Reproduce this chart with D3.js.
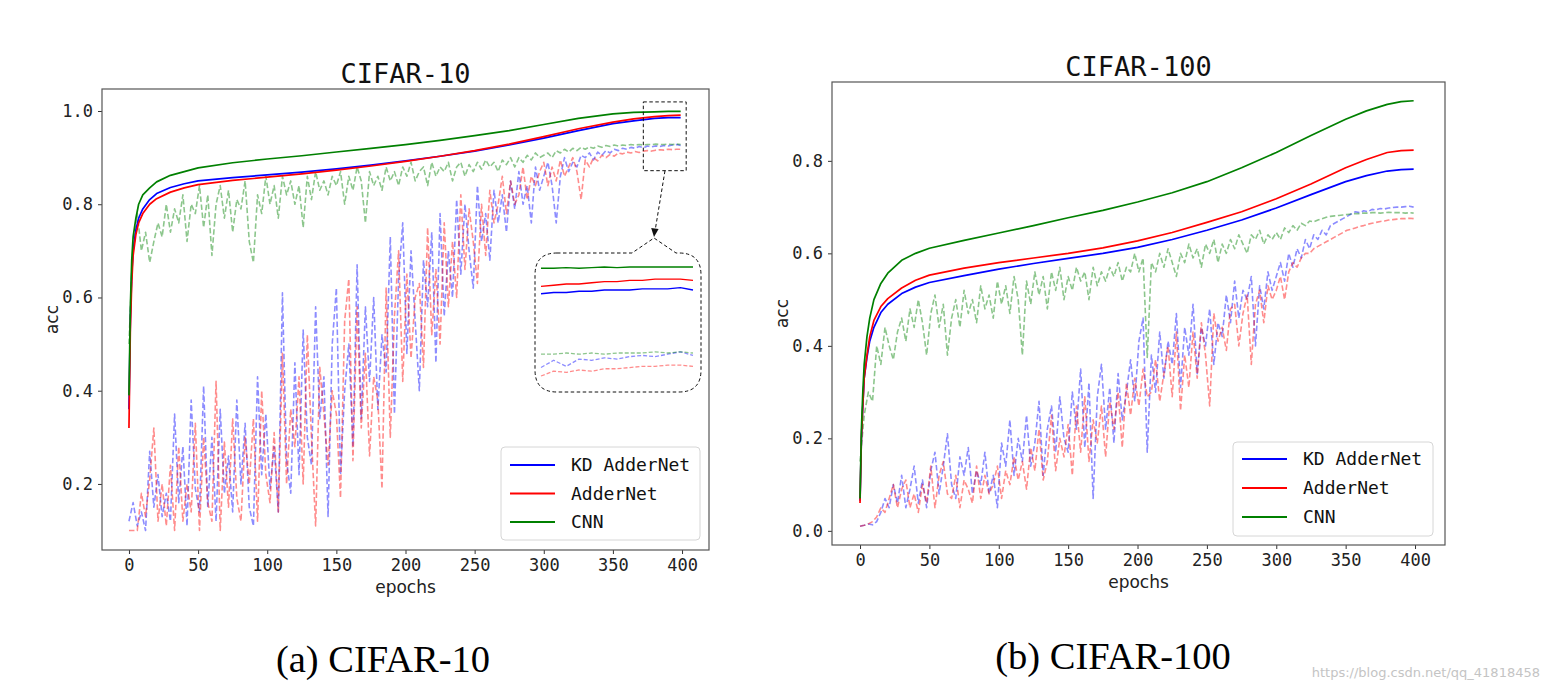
<!DOCTYPE html>
<html><head><meta charset="utf-8">
<script src="https://cdn.jsdelivr.net/npm/d3@7"></script>
<style>body{margin:0;background:#fff}</style>
</head><body>
<svg id="chart" width="1548" height="691"></svg>
<script>
// ---------- data ----------
const seriesNames = ["KD AdderNet", "AdderNet", "CNN"];
const seriesColors = ["#0000ff", "#ff0000", "#008000"];
const xTicks = [0, 50, 100, 150, 200, 250, 300, 350, 400];
const yTicksC10 = [0.2, 0.4, 0.6, 0.8, 1.0];
const yTicksC100 = [0.0, 0.2, 0.4, 0.6, 0.8];
const titles = ["CIFAR-10", "CIFAR-100"];
const captions = ["(a) CIFAR-10", "(b) CIFAR-100"];

const trainEpochs = [0,1,2,3,5,7,10,15,20,30,40,50,75,100,125,150,175,200,225,250,275,300,325,350,365,380,390,399];
const testEpochs = [0,3,6,9,12,15,18,21,24,27,30,33,36,39,42,45,48,51,54,57,60,63,66,69,72,75,78,81,84,87,
  90,93,96,99,102,105,108,111,114,117,120,123,126,129,132,135,138,141,144,147,150,153,156,159,162,165,168,171,174,177,
  180,183,186,189,192,195,198,201,204,207,210,213,216,219,222,225,228,231,234,237,240,243,246,249,252,255,258,261,264,267,
  270,273,276,279,282,285,288,291,294,297,300,303,306,309,312,315,318,321,324,327,330,333,336,339,342,345,348,351,354,357,
  360,363,366,369,372,375,378,381,384,387,390,393,396,399];

// CIFAR-10 training accuracy (solid)
const c10TrainKD  = [0.36,0.55,0.65,0.70,0.745,0.77,0.79,0.81,0.823,0.836,0.844,0.850,0.857,0.863,0.869,0.876,0.884,0.893,0.903,0.914,0.927,0.942,0.958,0.973,0.979,0.984,0.986,0.986];
const c10TrainAdd = [0.32,0.53,0.63,0.69,0.735,0.76,0.78,0.80,0.812,0.826,0.835,0.842,0.851,0.858,0.865,0.873,0.882,0.892,0.903,0.915,0.929,0.945,0.962,0.976,0.983,0.988,0.990,0.991];
const c10TrainCNN = [0.39,0.58,0.68,0.73,0.77,0.80,0.82,0.835,0.848,0.862,0.870,0.878,0.889,0.897,0.904,0.912,0.920,0.928,0.937,0.947,0.958,0.971,0.984,0.994,0.997,0.998,0.999,0.999];
// CIFAR-10 test accuracy (dashed)
const c10TestKD = [
  0.12,0.16,0.11,0.14,0.10,0.27,0.15,0.22,0.13,0.18,
  0.12,0.35,0.16,0.28,0.11,0.38,0.19,0.14,0.41,0.15,
  0.30,0.12,0.36,0.18,0.26,0.14,0.38,0.20,0.33,0.15,
  0.11,0.43,0.22,0.35,0.19,0.28,0.14,0.61,0.25,0.18,
  0.46,0.22,0.53,0.30,0.24,0.58,0.34,0.43,0.13,0.50,
  0.62,0.22,0.40,0.50,0.28,0.67,0.34,0.58,0.42,0.60,
  0.36,0.52,0.44,0.73,0.35,0.64,0.76,0.48,0.70,0.55,
  0.40,0.68,0.58,0.74,0.46,0.78,0.56,0.70,0.60,0.81,
  0.65,0.80,0.70,0.62,0.84,0.72,0.78,0.68,0.83,0.76,
  0.82,0.74,0.85,0.79,0.87,0.80,0.84,0.76,0.88,0.83,
  0.86,0.89,0.84,0.76,0.86,0.90,0.87,0.89,0.88,0.905,
  0.90,0.91,0.895,0.912,0.905,0.915,0.91,0.918,0.915,0.92,
  0.918,0.922,0.92,0.924,0.921,0.925,0.923,0.925,0.924,0.926,
  0.925,0.927,0.928,0.926];
const c10TestAdd = [
  0.10,0.10,0.10,0.18,0.13,0.21,0.32,0.12,0.20,0.11,
  0.24,0.10,0.28,0.12,0.20,0.14,0.33,0.10,0.30,0.16,
  0.12,0.42,0.10,0.29,0.15,0.34,0.17,0.12,0.30,0.20,
  0.34,0.12,0.40,0.22,0.16,0.31,0.14,0.48,0.20,0.36,
  0.28,0.43,0.20,0.52,0.30,0.11,0.45,0.35,0.24,0.40,
  0.35,0.17,0.55,0.64,0.25,0.58,0.32,0.48,0.26,0.43,
  0.38,0.19,0.62,0.30,0.56,0.70,0.42,0.65,0.47,0.60,
  0.63,0.45,0.75,0.52,0.66,0.50,0.76,0.58,0.72,0.60,
  0.82,0.66,0.79,0.72,0.63,0.80,0.69,0.83,0.76,0.80,
  0.86,0.78,0.85,0.80,0.82,0.88,0.81,0.86,0.84,0.87,
  0.89,0.84,0.88,0.85,0.895,0.86,0.88,0.90,0.87,0.81,
  0.895,0.88,0.90,0.893,0.905,0.90,0.907,0.903,0.91,0.908,
  0.912,0.91,0.913,0.911,0.914,0.915,0.914,0.916,0.917,0.916,
  0.918,0.917,0.918,0.918];
const c10TestCNN = [
  0.50,0.72,0.78,0.70,0.74,0.675,0.72,0.76,0.73,0.80,
  0.74,0.79,0.76,0.82,0.72,0.80,0.78,0.84,0.75,0.82,
  0.69,0.80,0.84,0.77,0.83,0.74,0.81,0.79,0.85,0.72,
  0.675,0.82,0.78,0.86,0.80,0.84,0.77,0.86,0.82,0.85,
  0.80,0.84,0.75,0.86,0.81,0.87,0.83,0.85,0.82,0.86,
  0.84,0.87,0.80,0.86,0.83,0.88,0.85,0.76,0.87,0.84,
  0.86,0.83,0.88,0.85,0.87,0.84,0.88,0.86,0.89,0.85,
  0.87,0.88,0.84,0.89,0.86,0.88,0.87,0.89,0.85,0.88,
  0.89,0.86,0.885,0.87,0.89,0.875,0.895,0.88,0.89,0.87,
  0.895,0.885,0.90,0.88,0.90,0.89,0.905,0.895,0.91,0.90,
  0.905,0.91,0.90,0.915,0.91,0.918,0.912,0.92,0.915,0.922,
  0.918,0.923,0.92,0.925,0.922,0.926,0.924,0.927,0.925,0.927,
  0.926,0.928,0.927,0.928,0.927,0.928,0.928,0.929,0.928,0.928,
  0.929,0.928,0.929,0.928];

// CIFAR-100 training accuracy (solid)
const c100TrainKD  = [0.065,0.20,0.27,0.33,0.375,0.41,0.44,0.472,0.49,0.513,0.527,0.537,0.552,0.566,0.578,0.589,0.600,0.613,0.630,0.650,0.672,0.698,0.727,0.755,0.768,0.778,0.781,0.782];
const c100TrainAdd = [0.06,0.20,0.27,0.33,0.38,0.42,0.455,0.485,0.502,0.525,0.542,0.553,0.568,0.580,0.590,0.600,0.612,0.627,0.645,0.667,0.690,0.718,0.750,0.785,0.803,0.818,0.822,0.823];
const c100TrainCNN = [0.07,0.22,0.30,0.36,0.42,0.46,0.50,0.535,0.557,0.585,0.600,0.611,0.628,0.644,0.660,0.677,0.693,0.711,0.731,0.755,0.785,0.818,0.855,0.890,0.908,0.922,0.928,0.930];
// CIFAR-100 test accuracy (dashed)
const c100TestKD = [
  0.01,0.012,0.015,0.013,0.02,0.04,0.07,0.05,0.10,0.06,
  0.12,0.05,0.09,0.14,0.06,0.11,0.05,0.13,0.17,0.08,
  0.14,0.21,0.10,0.07,0.16,0.12,0.18,0.08,0.13,0.10,
  0.17,0.08,0.12,0.05,0.19,0.14,0.24,0.12,0.20,0.15,
  0.25,0.14,0.19,0.28,0.12,0.22,0.27,0.17,0.29,0.20,
  0.17,0.30,0.22,0.35,0.18,0.32,0.07,0.29,0.36,0.22,
  0.31,0.19,0.34,0.24,0.30,0.37,0.28,0.41,0.46,0.17,
  0.38,0.30,0.43,0.33,0.41,0.36,0.47,0.31,0.44,0.38,
  0.49,0.34,0.44,0.40,0.48,0.36,0.45,0.42,0.51,0.45,
  0.54,0.46,0.52,0.50,0.55,0.40,0.53,0.48,0.56,0.52,
  0.55,0.58,0.54,0.60,0.57,0.61,0.59,0.63,0.61,0.64,
  0.63,0.65,0.64,0.66,0.665,0.67,0.675,0.68,0.685,0.69,
  0.688,0.692,0.69,0.695,0.694,0.697,0.696,0.698,0.699,0.70,
  0.70,0.701,0.702,0.70];
const c100TestAdd = [
  0.01,0.012,0.015,0.02,0.03,0.05,0.04,0.07,0.10,0.05,
  0.09,0.11,0.05,0.08,0.04,0.10,0.06,0.14,0.05,0.12,
  0.15,0.08,0.07,0.12,0.05,0.11,0.09,0.06,0.14,0.07,
  0.12,0.08,0.10,0.14,0.07,0.13,0.10,0.16,0.11,0.15,
  0.09,0.18,0.13,0.22,0.11,0.15,0.25,0.13,0.20,0.16,
  0.23,0.12,0.27,0.17,0.29,0.15,0.24,0.19,0.27,0.16,
  0.28,0.22,0.30,0.18,0.32,0.25,0.33,0.27,0.35,0.29,
  0.30,0.37,0.28,0.34,0.40,0.29,0.43,0.26,0.38,0.31,
  0.43,0.33,0.45,0.38,0.27,0.47,0.41,0.44,0.39,0.48,
  0.49,0.40,0.47,0.51,0.36,0.49,0.52,0.45,0.53,0.50,
  0.52,0.55,0.50,0.56,0.58,0.57,0.59,0.60,0.60,0.61,
  0.615,0.62,0.625,0.63,0.635,0.64,0.645,0.65,0.652,0.655,
  0.658,0.66,0.663,0.665,0.667,0.669,0.67,0.672,0.673,0.674,
  0.675,0.675,0.676,0.675];
const c100TestCNN = [
  0.15,0.25,0.30,0.28,0.40,0.36,0.44,0.40,0.37,0.43,
  0.46,0.41,0.48,0.44,0.50,0.45,0.38,0.47,0.51,0.44,
  0.49,0.38,0.46,0.50,0.44,0.52,0.47,0.50,0.45,0.53,
  0.48,0.51,0.46,0.54,0.49,0.53,0.47,0.55,0.50,0.38,
  0.54,0.49,0.56,0.51,0.55,0.48,0.56,0.52,0.57,0.50,
  0.55,0.52,0.57,0.54,0.56,0.50,0.57,0.53,0.56,0.54,
  0.57,0.55,0.58,0.54,0.57,0.56,0.60,0.56,0.59,0.375,
  0.58,0.56,0.60,0.57,0.61,0.58,0.55,0.60,0.58,0.62,
  0.59,0.61,0.57,0.62,0.60,0.63,0.58,0.62,0.60,0.63,
  0.61,0.64,0.62,0.60,0.64,0.63,0.65,0.62,0.64,0.63,
  0.645,0.63,0.655,0.645,0.66,0.65,0.665,0.66,0.67,0.668,
  0.672,0.675,0.678,0.68,0.681,0.682,0.683,0.684,0.685,0.686,
  0.686,0.687,0.687,0.688,0.688,0.687,0.688,0.689,0.688,0.688,
  0.688,0.687,0.688,0.687];

// Inset (CIFAR-10, last epochs)
const insetEpochs = [375,377,379,381,383,385,387,389,391,393,395,397,399];
const insetTrainKD  = [0.977,0.978,0.978,0.979,0.979,0.980,0.980,0.980,0.981,0.981,0.981,0.982,0.980];
const insetTrainAdd = [0.983,0.984,0.985,0.985,0.986,0.987,0.987,0.988,0.988,0.989,0.989,0.989,0.988];
const insetTrainCNN = [0.998,0.998,0.9985,0.998,0.9985,0.999,0.9985,0.999,0.999,0.999,0.999,0.999,0.999];
const insetTestKD  = [0.916,0.922,0.917,0.923,0.922,0.924,0.923,0.925,0.926,0.925,0.927,0.929,0.926];
const insetTestAdd = [0.909,0.913,0.912,0.914,0.913,0.915,0.915,0.916,0.917,0.917,0.918,0.918,0.917];
const insetTestCNN = [0.927,0.927,0.928,0.927,0.928,0.927,0.928,0.928,0.928,0.929,0.928,0.929,0.928];

// ---------- drawing ----------
const svg = d3.select("#chart");
const monoFont = "'DejaVu Sans Mono', monospace";
const sansFont = "'DejaVu Sans', sans-serif";

function drawLines(g, x, y, epochs, series, dashed, opts) {
  const line = d3.line().x(d => x(d[0])).y(d => y(d[1]));
  series.forEach((vals, i) => {
    g.append("path")
      .datum(epochs.map((e, j) => [e, vals[j]]))
      .attr("d", line)
      .attr("fill", "none")
      .attr("stroke", seriesColors[i])
      .attr("stroke-width", opts.width)
      .attr("stroke-opacity", dashed ? 0.45 : 1)
      .attr("stroke-dasharray", dashed ? opts.dash : null)
      .attr("stroke-linejoin", "round");
  });
}

function panel(cfg) {
  const g = svg.append("g");
  const x = d3.scaleLinear().domain(cfg.xDomain).range([cfg.left, cfg.right]);
  const y = d3.scaleLinear().domain(cfg.yDomain).range([cfg.bottom, cfg.top]);
  const clipId = "clip-" + cfg.id;
  svg.append("clipPath").attr("id", clipId).append("rect")
    .attr("x", cfg.left).attr("y", cfg.top)
    .attr("width", cfg.right - cfg.left).attr("height", cfg.bottom - cfg.top);
  const plot = g.append("g").attr("clip-path", `url(#${clipId})`);
  drawLines(plot, x, y, testEpochs, cfg.test, true, {width: 1.6, dash: "5.5,2.6"});
  drawLines(plot, x, y, trainEpochs, cfg.train, false, {width: 1.7});

  // axes
  const xAxis = g.append("g").attr("transform", `translate(0,${cfg.bottom})`)
    .call(d3.axisBottom(x).tickValues(xTicks).tickSize(4).tickPadding(5).tickFormat(d3.format("d")));
  const yAxis = g.append("g").attr("transform", `translate(${cfg.left},0)`)
    .call(d3.axisLeft(y).tickValues(cfg.yTicks).tickSize(4).tickPadding(5).tickFormat(d3.format(".1f")));
  [xAxis, yAxis].forEach(a => {
    a.select(".domain").remove();
    a.selectAll("line").attr("stroke", "#333");
    a.selectAll("text").attr("font-family", monoFont).attr("font-size", 17).attr("fill", "#222");
  });
  // frame
  g.append("rect").attr("x", cfg.left).attr("y", cfg.top)
    .attr("width", cfg.right - cfg.left).attr("height", cfg.bottom - cfg.top)
    .attr("fill", "none").attr("stroke", "#555").attr("stroke-width", 1.2);

  // title + labels
  g.append("text").attr("x", (cfg.left + cfg.right) / 2).attr("y", cfg.top - 6)
    .attr("text-anchor", "middle").attr("font-family", monoFont).attr("font-size", 27)
    .attr("fill", "#111").text(cfg.title);
  g.append("text").attr("x", (cfg.left + cfg.right) / 2).attr("y", cfg.bottom + 43)
    .attr("text-anchor", "middle").attr("font-family", sansFont).attr("font-size", 17)
    .attr("fill", "#222").text("epochs");
  g.append("text").attr("transform", `translate(${cfg.left - 44},${(cfg.top + cfg.bottom) / 2}) rotate(-90)`)
    .attr("text-anchor", "middle").attr("font-family", sansFont).attr("font-size", 17)
    .attr("fill", "#222").text("acc");

  // legend
  const L = cfg.legend;
  g.append("rect").attr("x", L.x).attr("y", L.y).attr("width", L.w).attr("height", L.h)
    .attr("rx", 4).attr("fill", "#fff").attr("fill-opacity", 0.85)
    .attr("stroke", "#d6d6d6").attr("stroke-width", 1);
  seriesNames.forEach((name, i) => {
    const yy = L.y + L.row0 + i * L.step;
    g.append("line").attr("x1", L.x + 9).attr("x2", L.x + 54).attr("y1", yy).attr("y2", yy)
      .attr("stroke", seriesColors[i]).attr("stroke-width", 2);
    g.append("text").attr("x", L.x + 70).attr("y", yy).attr("dy", "0.36em")
      .attr("font-family", monoFont).attr("font-size", 18).attr("fill", "#111").text(name);
  });

  // caption
  g.append("text").attr("x", cfg.capX).attr("y", cfg.capY).attr("text-anchor", "middle")
    .attr("font-family", "'Liberation Serif', 'Times New Roman', serif").attr("font-size", 38.5)
    .attr("fill", "#000").text(cfg.caption);
  return {x, y, g};
}

const p1 = panel({
  id: "c10", left: 102, right: 709, top: 89, bottom: 550,
  xDomain: [-19.5, 419.5], yDomain: [0.0583, 1.0472], yTicks: yTicksC10,
  train: [c10TrainKD, c10TrainAdd, c10TrainCNN],
  test: [c10TestKD, c10TestAdd, c10TestCNN],
  title: titles[0],
  legend: {x: 501, y: 447, w: 199, h: 93, row0: 18, step: 28.5},
  caption: captions[0], capX: 383, capY: 672
});

const p2 = panel({
  id: "c100", left: 832, right: 1445, top: 82, bottom: 545,
  xDomain: [-20.2, 421.6], yDomain: [-0.0306, 0.9705], yTicks: yTicksC100,
  train: [c100TrainKD, c100TrainAdd, c100TrainCNN],
  test: [c100TestKD, c100TestAdd, c100TestCNN],
  title: titles[1],
  legend: {x: 1233, y: 442, w: 200, h: 94, row0: 17, step: 29},
  caption: captions[1], capX: 1113, capY: 669
});

// ---------- zoom inset on CIFAR-10 ----------
{
  const g = p1.g;
  const zx0 = p1.x(372), zx1 = p1.x(403), zy0 = p1.y(1.0195), zy1 = p1.y(0.872);
  g.append("rect").attr("x", zx0).attr("y", zy0).attr("width", zx1 - zx0).attr("height", zy1 - zy0)
    .attr("fill", "none").attr("stroke", "#111").attr("stroke-width", 1).attr("stroke-dasharray", "3.5,2.5");

  const bx0 = 535, bx1 = 701, by0 = 253, by1 = 392, r = 22;
  const apexX = 654, apexY = 238;
  const path = `M${bx0 + r},${by0} L${apexX - 22},${by0} L${apexX},${apexY} L${apexX + 22},${by0} L${bx1 - r},${by0}
    Q${bx1},${by0} ${bx1},${by0 + r} L${bx1},${by1 - r} Q${bx1},${by1} ${bx1 - r},${by1}
    L${bx0 + r},${by1} Q${bx0},${by1} ${bx0},${by1 - r} L${bx0},${by0 + r} Q${bx0},${by0} ${bx0 + r},${by0} Z`;
  g.append("path").attr("d", path).attr("fill", "#fff").attr("stroke", "#111")
    .attr("stroke-width", 1).attr("stroke-dasharray", "3.5,2.5");

  // arrow
  const ax0 = 665, ay0 = zy1, ax1 = apexX, ay1 = apexY - 1;
  g.append("line").attr("x1", ax0).attr("y1", ay0).attr("x2", ax1 + 1.2).attr("y2", ay1 - 7)
    .attr("stroke", "#111").attr("stroke-width", 1).attr("stroke-dasharray", "3.5,2.5");
  g.append("path").attr("d", `M${ax1},${ay1} L${ax1 - 2.8},${ay1 - 9} L${ax1 + 4.6},${ay1 - 8} Z`).attr("fill", "#111");

  const ix = d3.scaleLinear().domain([375, 399]).range([541, 693]);
  const iy = d3.scaleLinear().domain([0.8958, 1.0106]).range([by1, by0]);
  const ig = g.append("g");
  drawLines(ig, ix, iy, insetEpochs, [insetTestKD, insetTestAdd, insetTestCNN], true, {width: 1.3, dash: "4,2"});
  drawLines(ig, ix, iy, insetEpochs, [insetTrainKD, insetTrainAdd, insetTrainCNN], false, {width: 1.4});
}

// watermark
svg.append("text").attr("x", 1540).attr("y", 677).attr("text-anchor", "end")
  .attr("font-family", sansFont).attr("font-size", 13).attr("fill", "#c4c4c4")
  .text("https://blog.csdn.net/qq_41818458");
</script>
</body></html>
